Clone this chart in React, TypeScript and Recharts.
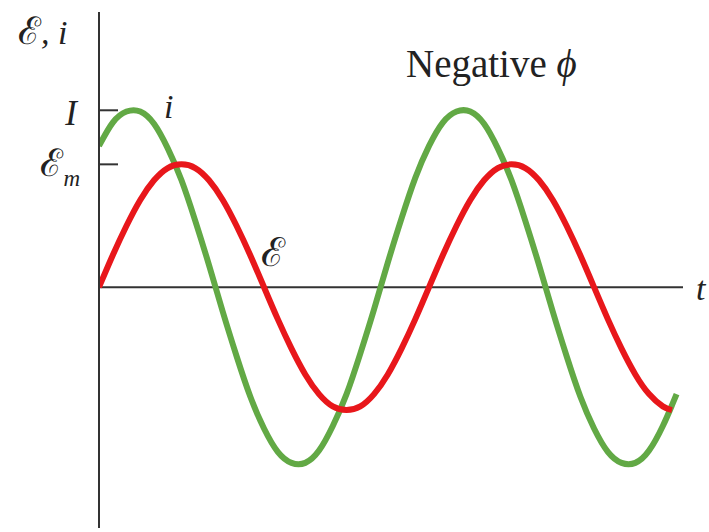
import { LineChart, Line, XAxis, YAxis, ReferenceLine } from 'recharts';

// time axis expressed as emf phase in degrees (one period = 360)
const phaseDeg = [
  0, 15, 30, 45, 60, 75, 90, 105, 120, 135, 150, 165, 180, 195, 210, 225, 240, 255, 270, 285, 300,
  315, 330, 345, 360, 375, 390, 405, 420, 435, 450, 465, 480, 495, 510, 525, 540, 555, 570, 585,
  600, 615, 625, 630,
];

// emf, in units of its amplitude Em
const emfValues: (number | null)[] = [
  0, 0.26, 0.5, 0.71, 0.87, 0.97, 1.0, 0.97, 0.87, 0.71, 0.5, 0.26, 0, -0.26, -0.5, -0.71, -0.87,
  -0.97, -1.0, -0.97, -0.87, -0.71, -0.5, -0.26, 0, 0.26, 0.5, 0.71, 0.87, 0.97, 1.0, 0.97, 0.87,
  0.71, 0.5, 0.26, 0, -0.26, -0.5, -0.71, -0.87, -0.97, -1.0, null,
];

// current, leading the emf (negative phase constant)
const currentValues = [
  1.15, 1.34, 1.43, 1.43, 1.33, 1.13, 0.87, 0.54, 0.18, -0.2, -0.56, -0.89, -1.15, -1.34, -1.43,
  -1.43, -1.33, -1.13, -0.87, -0.54, -0.18, 0.2, 0.56, 0.89, 1.15, 1.34, 1.43, 1.43, 1.33, 1.13,
  0.87, 0.54, 0.18, -0.2, -0.56, -0.89, -1.15, -1.34, -1.43, -1.43, -1.33, -1.13, -0.96, -0.87,
];

const amplitudeTicks = [1.0, 1.44];

const data = phaseDeg.map((t, i) => ({ t, emf: emfValues[i], current: currentValues[i] }));

const AXIS = '#333';
const INK = '#222';
const SERIF = '"Liberation Serif", "DejaVu Serif", serif';

const AmplitudeTick = ({ x, y, payload }: any) => (
  <g>
    <line x1={x} x2={x + 19} y1={y} y2={y} stroke={AXIS} strokeWidth={2} />
    {payload.value === 1.44 ? (
      <text x={x - 22} y={y + 15} textAnchor="end" fontFamily={SERIF} fontStyle="italic" fontSize={35} fill={INK}>
        I
      </text>
    ) : (
      <text x={x - 19} y={y + 12} textAnchor="end" fontFamily={SERIF} fontSize={38} fill={INK}>
        ℰ
        <tspan fontSize={23} fontStyle="italic" dy={10}>m</tspan>
      </text>
    )}
  </g>
);

export default function App() {
  return (
    <div style={{ position: 'absolute', left: 0, top: 0, width: 709, height: 532, background: '#fff' }}>
      <LineChart width={709} height={532} data={data} margin={{ top: 12, right: 26, bottom: 4, left: 39 }}>
        <XAxis type="number" dataKey="t" domain={[0, 637]} hide allowDataOverflow />
        <YAxis
          type="number"
          domain={[-1.96, 2.24]}
          ticks={amplitudeTicks}
          width={60}
          tickSize={0}
          tickMargin={0}
          tickLine={false}
          axisLine={{ stroke: AXIS, strokeWidth: 2 }}
          tick={<AmplitudeTick />}
          allowDataOverflow
        />
        <ReferenceLine y={0} stroke={AXIS} strokeWidth={2} />
        <Line
          type="natural"
          dataKey="current"
          stroke="#62a945"
          strokeWidth={6}
          dot={false}
          activeDot={false}
          isAnimationActive={false}
        />
        <Line
          type="natural"
          dataKey="emf"
          stroke="#e8171b"
          strokeWidth={6}
          dot={false}
          activeDot={false}
          isAnimationActive={false}
        />
        <text x={18} y={44} fontFamily={SERIF} fontSize={38} fill={INK}>
          ℰ<tspan fontStyle="italic" fontSize={34}>, i</tspan>
        </text>
        <text x={164} y={118} fontFamily={SERIF} fontStyle="italic" fontSize={34} fill={INK}>
          i
        </text>
        <text x={261} y={266} fontFamily={SERIF} fontSize={40} fill={INK}>
          ℰ
        </text>
        <text x={406} y={77} fontFamily={SERIF} fontSize={39} fill={INK}>
          Negative <tspan fontStyle="italic">ϕ</tspan>
        </text>
        <text x={696} y={300} fontFamily={SERIF} fontStyle="italic" fontSize={34} fill={INK}>
          t
        </text>
      </LineChart>
    </div>
  );
}
